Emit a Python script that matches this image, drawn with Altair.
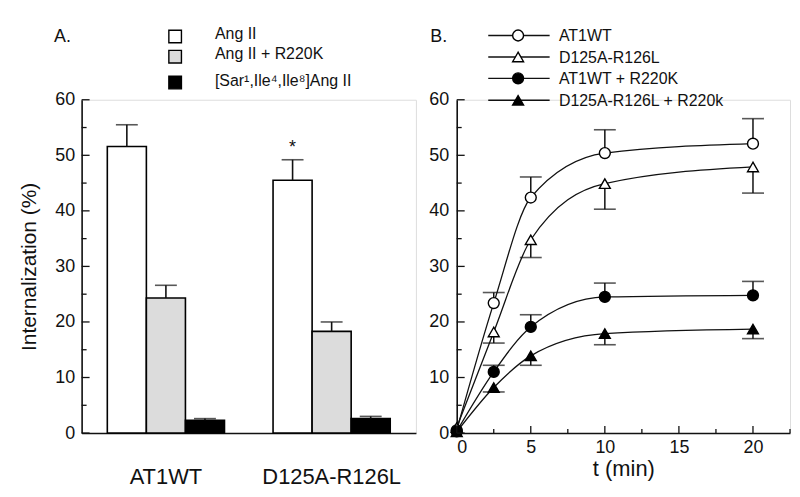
import altair as alt
import pandas as pd
import numpy as np

FONT = "Liberation Sans"
INK = "#111111"

# ---------------- Panel A data ----------------
groups = ["AT1WT", "D125A-R126L"]
treatments = ["Ang II", "Ang II + R220K", "[Sar¹,Ile⁴,Ile⁸]Ang II"]
at1wt_vals = [51.6, 24.3, 2.3]
at1wt_err_top = [55.5, 26.6, 2.6]
d125_vals = [45.5, 18.3, 2.6]
d125_err_top = [49.2, 20.0, 3.0]
at1wt_sig = ["", "", ""]
d125_sig = ["*", "", ""]
bar_fills = ["white", "#dcdcdc", "black"]
yA_major = [0, 10, 20, 30, 40, 50, 60]
yA_minor = [5, 15, 25, 35, 45, 55]
panel_labels = ["A.", "B."]

# ---------------- Panel B data ----------------
t_min = [0, 2.5, 5, 10, 20]
series_B = ["AT1WT", "D125A-R126L", "AT1WT + R220K", "D125A-R126L + R220k"]
b_at1wt = [0.5, 23.4, 42.4, 50.4, 52.1]
b_at1wt_end = [np.nan, 25.3, 46.1, 54.6, 56.6]
b_d125 = [1.0, 18.2, 34.8, 44.9, 47.9]
b_d125_end = [np.nan, 16.2, 31.6, 40.3, 43.2]
b_at1wt_r = [0.3, 11.0, 19.1, 24.5, 24.8]
b_at1wt_r_end = [np.nan, 12.2, 21.3, 27.0, 27.3]
b_d125_r = [0.2, 8.2, 13.9, 17.9, 18.7]
b_d125_r_end = [np.nan, 7.4, 12.2, 15.9, 17.0]
xB_major = [0, 5, 10, 15, 20]
xB_minor = [2.5, 7.5, 12.5, 17.5, 22.5]
shapes_B = ["circle", "triangle-up", "circle", "triangle-up"]
fills_B = ["white", "white", "black", "black"]

W_A, W_B, H = 336, 335, 335

# ---------------- shared axes ----------------
yscale = alt.Scale(domain=[0, 60], nice=False, zero=True)
axisYA = alt.Axis(values=yA_major, title="Internalization (%)", titleFontSize=21,
                  titleFontWeight="normal", titleFont=FONT, titleColor=INK,
                  titleX=-46, titleBaseline="alphabetic",
                  labelFontSize=18, labelPadding=7, labelFont=FONT, labelColor=INK,
                  ticks=False, tickSize=0, domainColor=INK, domainWidth=1.6, grid=False)
axisYB = alt.Axis(values=yA_major, title="", labelFontSize=18, labelPadding=8,
                  labelFont=FONT, labelColor=INK, ticks=False, tickSize=0,
                  domainColor=INK, domainWidth=1.6, grid=False)
axisXA = alt.Axis(title="", labelAngle=0, labelFontSize=22, labelPadding=51,
                  labelBaseline="alphabetic", ticks=False, tickSize=0,
                  domainColor=INK, domainWidth=1.6, labelColor=INK, labelFont=FONT)
xscaleB = alt.Scale(domain=[0, 22.5], nice=False, zero=False)
axisXB = alt.Axis(values=xB_major, format="d", title="t (min)", titleFontSize=22,
                  titleFontWeight="normal", titleFont=FONT, titleColor=INK,
                  titleY=43, titleBaseline="alphabetic",
                  labelFontSize=18, labelPadding=20, labelBaseline="alphabetic",
                  labelFont=FONT, labelColor=INK, ticks=False, tickSize=0,
                  domainColor=INK, domainWidth=1.6, grid=False)


def yA(field):
    return alt.Y(f"{field}:Q", scale=yscale, axis=axisYA)


def yB(field):
    return alt.Y(f"{field}:Q", scale=yscale, axis=axisYB)


def xB(field):
    return alt.X(f"{field}:Q", scale=xscaleB, axis=axisXB)


# ---------------- Panel A ----------------
dfA = pd.DataFrame({
    "group": [groups[0]] * 3 + [groups[1]] * 3,
    "treat": treatments * 2,
    "value": at1wt_vals + d125_vals,
    "err": at1wt_err_top + d125_err_top,
    "sig": at1wt_sig + d125_sig,
})

xA = alt.X("group:N", sort=groups,
           scale=alt.Scale(domain=groups, paddingInner=0.293, paddingOuter=0.155),
           axis=axisXA)
xoffA = alt.XOffset("treat:N", sort=treatments,
                    scale=alt.Scale(domain=treatments, paddingInner=0, paddingOuter=0))

baseA = alt.Chart(dfA)
bars = baseA.mark_bar(stroke="black", strokeWidth=1.6).encode(
    x=xA, xOffset=xoffA, y=yA("value"),
    fill=alt.Fill("treat:N", scale=alt.Scale(domain=treatments, range=bar_fills), legend=None),
)
err_rule = baseA.mark_rule(color=INK, strokeWidth=1.6).encode(
    x=xA, xOffset=xoffA, y=yA("value"), y2="err:Q")
err_cap = baseA.mark_tick(color=INK, size=22, thickness=1.6, orient="horizontal").encode(
    x=xA, xOffset=xoffA, y=yA("err"))
star = baseA.transform_filter("datum.sig != ''").mark_text(
    fontSize=18, font=FONT, color=INK, baseline="alphabetic", dy=-7).encode(
    x=xA, xOffset=xoffA, y=yA("err"), text="sig:N")

tickA_major = alt.Chart(pd.DataFrame({"value": yA_major})).mark_rule(color=INK, strokeWidth=1.3).encode(
    y=yA("value"), x=alt.value(0), x2=alt.value(8))
tickA_minor = alt.Chart(pd.DataFrame({"value": yA_minor})).mark_rule(color=INK, strokeWidth=1.3).encode(
    y=yA("value"), x=alt.value(0), x2=alt.value(5))

legA = []
sq_y = [-63.6, -43.3, -17.3]
tx_y = [-60.6, -41.3, -14.0]
for i, lab in enumerate(treatments):
    d = pd.DataFrame({"label": [lab]})
    legA.append(alt.Chart(d).mark_square(size=160, stroke="black", strokeWidth=1.4,
                                          fill=bar_fills[i], opacity=1, fillOpacity=1).encode(
        x=alt.value(94), y=alt.value(sq_y[i])))
    legA.append(alt.Chart(d).mark_text(align="left", baseline="alphabetic", fontSize=16,
                                        font=FONT, color=INK).encode(
        x=alt.value(134), y=alt.value(tx_y[i]), text="label:N"))

labA = alt.Chart(pd.DataFrame({"p": [panel_labels[0]]})).mark_text(
    align="left", baseline="alphabetic", fontSize=18, font=FONT, color=INK).encode(
    x=alt.value(-27.7), y=alt.value(-58.3), text="p:N")

panelA = alt.layer(bars, err_rule, err_cap, star, tickA_major, tickA_minor, labA, *legA).properties(
    width=W_A, height=H)

# ---------------- Panel B ----------------
vals = [b_at1wt, b_d125, b_at1wt_r, b_d125_r]
ends = [b_at1wt_end, b_d125_end, b_at1wt_r_end, b_d125_r_end]
rows = []
for s, v, e in zip(series_B, vals, ends):
    for t, vv, ee in zip(t_min, v, e):
        rows.append({"series": s, "t": t, "value": vv, "end": ee})
dfB = pd.DataFrame(rows)

baseB = alt.Chart(dfB)
linesB = baseB.mark_line(interpolate="monotone", color=INK, strokeWidth=1.3).encode(
    x=xB("t"), y=yB("value"), detail="series:N")
errB = baseB.transform_filter("isValid(datum.end) && isFinite(datum.end)").mark_rule(
    color=INK, strokeWidth=1.5).encode(x=xB("t"), y=yB("value"), y2="end:Q")
capB = baseB.transform_filter("isValid(datum.end) && isFinite(datum.end)").mark_tick(
    color=INK, size=22, thickness=1.6, orient="horizontal").encode(
    x=xB("t"), y=yB("end"))
ptsB = baseB.mark_point(filled=True, size=120, stroke="black", strokeWidth=1.4, opacity=1).encode(
    x=xB("t"), y=yB("value"),
    shape=alt.Shape("series:N", scale=alt.Scale(domain=series_B, range=shapes_B), legend=None),
    fill=alt.Fill("series:N", scale=alt.Scale(domain=series_B, range=fills_B), legend=None),
)

tickB_ymaj = alt.Chart(pd.DataFrame({"value": yA_major})).mark_rule(color=INK, strokeWidth=1.3).encode(
    y=yB("value"), x=alt.value(0), x2=alt.value(8))
tickB_ymin = alt.Chart(pd.DataFrame({"value": yA_minor})).mark_rule(color=INK, strokeWidth=1.3).encode(
    y=yB("value"), x=alt.value(0), x2=alt.value(5))
tickB_xmaj = alt.Chart(pd.DataFrame({"t": xB_major})).mark_rule(color=INK, strokeWidth=1.3).encode(
    x=xB("t"), y=alt.value(H), y2=alt.value(H - 7))
tickB_xmin = alt.Chart(pd.DataFrame({"t": xB_minor})).mark_rule(color=INK, strokeWidth=1.3).encode(
    x=xB("t"), y=alt.value(H), y2=alt.value(H - 4))

legB = []
row_y = [-64.6, -43.0, -21.5, 0.5]
for i, lab in enumerate(series_B):
    d = pd.DataFrame({"label": [lab]})
    legB.append(alt.Chart(d).mark_rule(color=INK, strokeWidth=1.3).encode(
        x=alt.value(31.7), x2=alt.value(93.4), y=alt.value(row_y[i])))
    legB.append(alt.Chart(d).mark_point(filled=True, size=120, stroke="black", strokeWidth=1.4,
                                         opacity=1, shape=shapes_B[i], fill=fills_B[i]).encode(
        x=alt.value(61.7), y=alt.value(row_y[i])))
    legB.append(alt.Chart(d).mark_text(align="left", baseline="middle", fontSize=16,
                                        font=FONT, color=INK).encode(
        x=alt.value(102.7), y=alt.value(row_y[i] + 1), text="label:N"))

labB = alt.Chart(pd.DataFrame({"p": [panel_labels[1]]})).mark_text(
    align="left", baseline="alphabetic", fontSize=18, font=FONT, color=INK).encode(
    x=alt.value(-26.6), y=alt.value(-58.3), text="p:N")

panelB = alt.layer(linesB, errB, capB, ptsB, tickB_ymaj, tickB_ymin, tickB_xmaj, tickB_xmin,
                   labB, *legB).properties(width=W_B, height=H)

chart = alt.hconcat(panelA, panelB, spacing=41, bounds="flush").resolve_scale(
    x="independent", y="independent", fill="independent", shape="independent"
).properties(
    padding={"left": 10, "top": 16, "right": 0, "bottom": 0}
).configure_view(stroke=None).configure(background="white")

chart.save("out.html", embed_options={"renderer": "svg", "actions": False})
